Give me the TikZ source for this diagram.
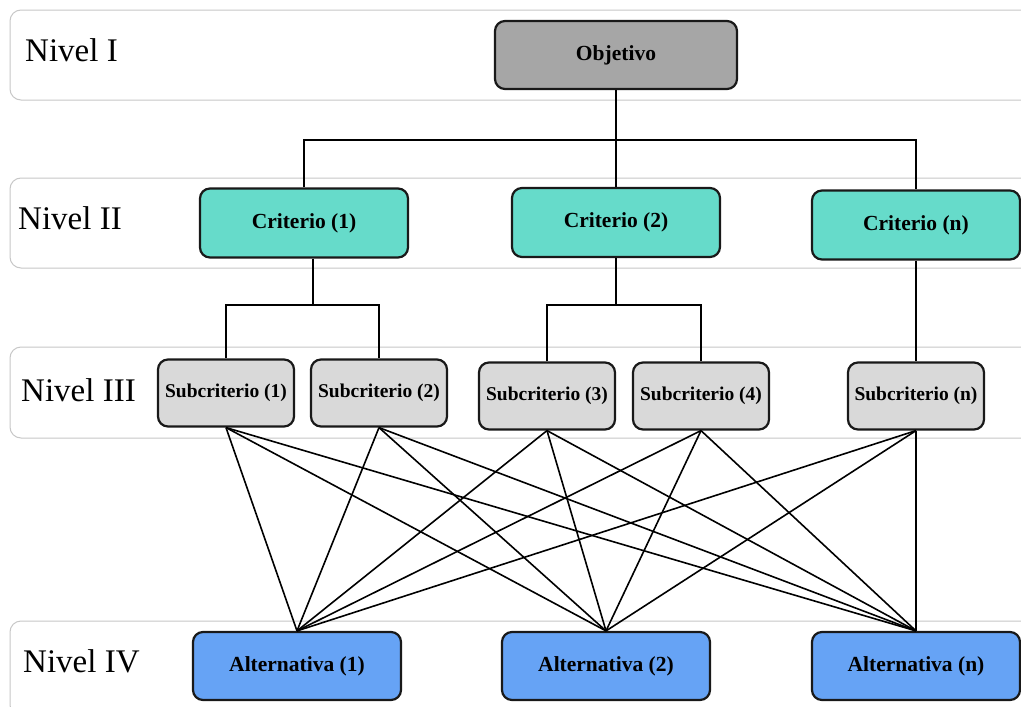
\documentclass[tikz,border=0pt]{standalone}
\usepackage{fontspec}
\setmainfont{Liberation Serif}
\begin{document}
\begin{tikzpicture}[x=1pt,y=-1pt,
  band/.style={draw=black!22,line width=1pt,rounded corners=11pt},
  lvl/.style={anchor=base west,inner sep=0pt,font=\fontsize{33}{33}\selectfont},
  boxbase/.style={draw=black!90,line width=2.2pt,rounded corners=10pt,align=center,
    inner sep=0pt,font=\bfseries\fontsize{21.5}{22}\selectfont},
  goalbox/.style={boxbase,fill=goalgray,minimum width=242pt,minimum height=68pt},
  critbox/.style={boxbase,fill=crit,minimum width=208pt,minimum height=69pt},
  subbox/.style={boxbase,fill=subgray,minimum width=136pt,minimum height=67pt,
    font=\bfseries\fontsize{19.5}{20}\selectfont},
  altbox/.style={boxbase,fill=alt,minimum width=208pt,minimum height=68pt},
  link/.style={draw=black,line width=1.9pt},
  cross/.style={draw=black,line width=1.6pt}]
\definecolor{goalgray}{HTML}{A6A6A6}
\definecolor{crit}{HTML}{66DBCA}
\definecolor{subgray}{HTML}{D9D9D9}
\definecolor{alt}{HTML}{66A3F5}

\useasboundingbox (0,0) rectangle (1021,707);
\clip (0,0) rectangle (1021,707);
\fill[white] (0,0) rectangle (1021,707);

% level bands
\draw[band] (10,10) rectangle (1045,100);
\draw[band] (10,178) rectangle (1045,268);
\draw[band] (10,347) rectangle (1045,438);
\draw[band] (10,621) rectangle (1045,716);

\node[lvl] (l1) at (25,61) {Nivel I};
\node[lvl] (l2) at (18,229) {Nivel II};
\node[lvl] (l3) at (21,401) {Nivel III};
\node[lvl] (l4) at (23,672) {Nivel IV};

% level I
\node[goalbox] (obj) at (616,55) {Objetivo};

% level II
\node[critbox] (c1) at (304,223) {Criterio (1)};
\node[critbox] (c2) at (616,222.5) {Criterio (2)};
\node[critbox] (cn) at (916,225) {Criterio (n)};

% level III
\node[subbox] (s1) at (226,393) {Subcriterio (1)};
\node[subbox] (s2) at (379,393) {Subcriterio (2)};
\node[subbox] (s3) at (547,396) {Subcriterio (3)};
\node[subbox] (s4) at (701,396) {Subcriterio (4)};
\node[subbox] (sn) at (916,396) {Subcriterio (n)};

% level IV
\node[altbox] (a1) at (297,666) {Alternativa (1)};
\node[altbox] (a2) at (606,666) {Alternativa (2)};
\node[altbox] (an) at (916,666) {Alternativa (n)};

% goal to criteria
\coordinate (j0) at (616,140);
\draw[link] (obj.south) -- (j0);
\draw[link] (c1.north) |- (j0) -| (cn.north);
\draw[link] (j0) -- (c2.north);

% criteria to subcriteria
\coordinate (j1) at (313,305);
\coordinate (j2) at (616,305);
\draw[link] (c1.south -| j1) -- (j1);
\draw[link] (s1.north) |- (j1) -| (s2.north);
\draw[link] (c2.south) -- (j2);
\draw[link] (s3.north) |- (j2) -| (s4.north);
\draw[link] (cn.south) -- (sn.north);

% every subcriterion to every alternative
\foreach \s in {s1,s2,s3,s4,sn}
  \foreach \a in {a1,a2,an}
    \draw[cross] (\s.south) -- (\a.north);
\end{tikzpicture}
\end{document}
